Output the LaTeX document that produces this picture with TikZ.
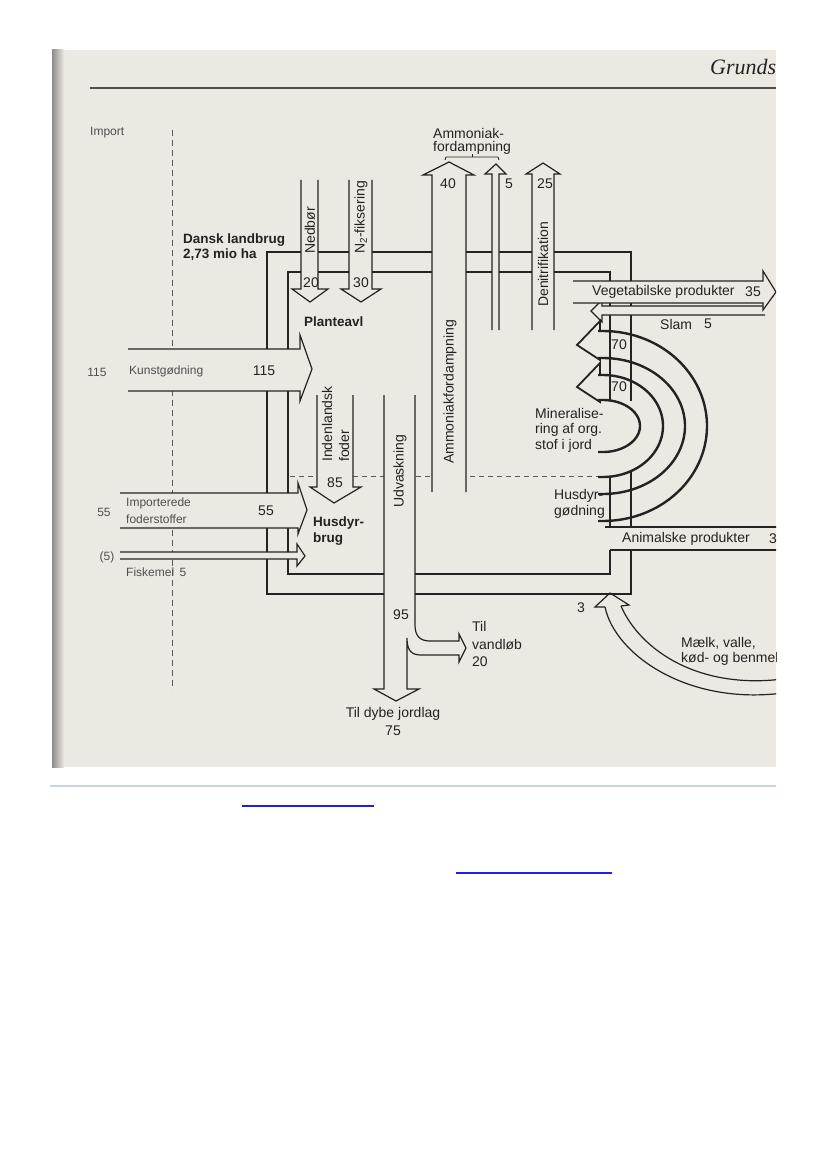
\documentclass[tikz,border=0pt]{standalone}
\usepackage{fontspec}
\setmainfont{Liberation Sans}
\newfontfamily\grundsfont{Liberation Serif}
\definecolor{paper}{RGB}{236,233,226}
\definecolor{ink}{RGB}{35,35,35}
\definecolor{rulegray}{RGB}{200,211,228}
\definecolor{linkblue}{RGB}{30,30,230}
\begin{document}
\begin{tikzpicture}[x=1pt,y=-1pt,
  wall/.style={ink, line width=1.3pt},
  flow/.style={ink, line width=1.2pt, line join=miter},
  band/.style={ink, line width=2.4pt},
  lbl/.style={font=\fontsize{14}{16}\selectfont, inner sep=0pt, text=ink},
  slbl/.style={font=\fontsize{12}{14}\selectfont, inner sep=0pt, text=ink!80},
  blbl/.style={font=\fontsize{13.5}{16}\selectfont\bfseries, inner sep=0pt, text=ink},
  dash1/.style={ink!75, line width=1pt, dash pattern=on 6pt off 4pt},
]
\useasboundingbox (0,0) rectangle (826,1169);
\fill[white] (0,0) rectangle (826,1169);
\fill[paper] (52,50) rectangle (776,767);
\begin{scope}
\clip (52,50) rectangle (776,767);
\shade[left color=black!45, right color=paper] (52,50) rectangle (64,767);
% header
\draw[ink!80, line width=1.2pt] (90,88) -- (776,88);
\node[anchor=base west, inner sep=0pt, font=\grundsfont\itshape\fontsize{22}{24}\selectfont, text=ink] at (710,75) {Grunds};
% dashed guides
\draw[dash1] (172,130) -- (172,690);
\draw[dash1, dash pattern=on 5pt off 4pt] (290,476) -- (598,476);
% box walls
\draw[wall] (267,594) -- (267,252) -- (631,252) -- (631,594) -- cycle;
\draw[wall] (288,574) -- (288,272) -- (610,272) -- (610,574) -- cycle;
\begin{scope}
\clip (595,401) rectangle (700,476);
\fill[paper] (603,375) -- plot[domain=-90:90, samples=40] ({603+60*cos(\x)},{426+51*sin(\x)}) -- cycle;
\end{scope}
% Nedbor
\fill[paper] (301,180) -- (301,289) -- (292,289) -- (310,302) -- (328,289) -- (318,289) -- (318,180) -- cycle;
\draw[flow] (301,180) -- (301,289) -- (292,289) -- (310,302) -- (328,289) -- (318,289) -- (318,180);
% N2
\fill[paper] (349,180) -- (349,289) -- (341,289) -- (361,302) -- (381,289) -- (372,289) -- (372,180) -- cycle;
\draw[flow] (349,180) -- (349,289) -- (341,289) -- (361,302) -- (381,289) -- (372,289) -- (372,180);
% Kunstgodning
\fill[paper] (128,349) -- (300,349) -- (300,335) -- (312,369) -- (300,401) -- (300,391) -- (128,391) -- cycle;
\draw[flow] (128,349) -- (300,349) -- (300,335) -- (312,369) -- (300,401) -- (300,391) -- (128,391);
% Importerede foderstoffer
\fill[paper] (120,493) -- (298,493) -- (298,483) -- (307,510) -- (298,534) -- (298,528) -- (120,528) -- cycle;
\draw[flow] (120,493) -- (298,493) -- (298,483) -- (307,510) -- (298,534) -- (298,528) -- (120,528);
% Fiskemel
\fill[paper] (120,552) -- (297,552) -- (297,544) -- (305,556) -- (297,566) -- (297,559) -- (120,559) -- cycle;
\draw[flow] (120,552) -- (297,552) -- (297,544) -- (305,556) -- (297,566) -- (297,559) -- (120,559);
% Indenlandsk foder
\fill[paper] (317,395) -- (317,487) -- (310,487) -- (334,503) -- (361,487) -- (353,487) -- (353,395) -- cycle;
\draw[flow] (317,395) -- (317,487) -- (310,487) -- (334,503) -- (361,487) -- (353,487) -- (353,395);
% Udvaskning
\fill[paper] (384,395) -- (384,689) -- (374,689) -- (396,701) -- (419,689) -- (407,689) -- (407,638) .. controls (407,650) and (411,655) .. (421,655) -- (459,655) -- (459,662) -- (466,648) -- (459,634) -- (459,641) -- (430,641) .. controls (420,641) and (415,636) .. (415,625) -- (415,395) -- cycle;
\draw[flow] (384,395) -- (384,689) -- (374,689) -- (396,701) -- (419,689) -- (407,689) -- (407,638) .. controls (407,650) and (411,655) .. (421,655) -- (459,655) -- (459,662) -- (466,648) -- (459,634) -- (459,641) -- (430,641) .. controls (420,641) and (415,636) .. (415,625) -- (415,395);
% Ammoniak 40
\fill[paper] (432,492) -- (432,175) -- (423,175) -- (449,162) -- (474,175) -- (466,175) -- (466,492) -- cycle;
\draw[flow] (432,492) -- (432,175) -- (423,175) -- (449,162) -- (474,175) -- (466,175) -- (466,492);
% Ammoniak 5
\fill[paper] (492,330) -- (492,174) -- (485,174) -- (496,164) -- (506,174) -- (499,174) -- (499,330) -- cycle;
\draw[flow] (492,330) -- (492,174) -- (485,174) -- (496,164) -- (506,174) -- (499,174) -- (499,330);
% Denitrifikation
\fill[paper] (532,330) -- (532,174) -- (526,174) -- (543,163) -- (560,174) -- (554,174) -- (554,330) -- cycle;
\draw[flow] (532,330) -- (532,174) -- (526,174) -- (543,163) -- (560,174) -- (554,174) -- (554,330);
% bracket
\draw[ink, line width=0.9pt] (445,160) -- (446,157) -- (498,157) -- (499,160);
\draw[ink, line width=0.9pt] (472,157) -- (472,154);
% Slam
\fill[paper] (770,306) -- (602,306) -- (602,300) -- (591,311) -- (602,322) -- (602,315) -- (770,315) -- cycle;
\draw[flow] (765,306) -- (602,306) -- (602,300) -- (591,311) -- (602,322) -- (602,315) -- (765,315);
% Vegetabilske
\fill[paper] (573,281) -- (763,281) -- (763,271) -- (776,292) -- (763,310) -- (763,303) -- (573,303) -- cycle;
\draw[flow] (573,281) -- (763,281) -- (763,271) -- (776,292) -- (763,310) -- (763,303) -- (573,303);
% Animalske
\fill[paper] (605,527) rectangle (790,550);
\draw[flow] (605,527) -- (790,527);
\draw[flow] (610,550) -- (790,550);
% Maelk arrow
\fill[paper] (605,607) .. controls (615,655) and (690,708) .. (790,692) -- (790,678) .. controls (700,692) and (640,650) .. (621,606) -- cycle;
\draw[flow] (605,607) .. controls (615,655) and (690,708) .. (790,692);
\draw[flow] (621,606) .. controls (640,650) and (700,692) .. (790,678);
\draw[flow] (605,607) -- (595,607) -- (610,593) -- (629,605) -- (621,606);
% bands
\draw[band] (598,331) -- plot[domain=-90:90, samples=60] ({603+104*cos(\x)},{426+95*sin(\x)}) -- (598,521);
\draw[band] (598,494) -- plot[domain=90:-90, samples=60] ({603+82*cos(\x)},{426+68*sin(\x)}) -- (598,358);
\draw[band] (598,375) -- plot[domain=-90:90, samples=50] ({603+60*cos(\x)},{426+51*sin(\x)}) -- (598,477);
\draw[band] (598,400) -- plot[domain=-90:90, samples=40] ({603+37*cos(\x)},{426+26*sin(\x)}) -- (598,452);
\draw[flow, line width=1.8pt] (600,331) -- (600,321) -- (577,345) -- (600,360) -- (600,358);
\draw[flow, line width=1.8pt] (600,375) -- (600,363) -- (577,387) -- (600,402) -- (600,400);
% texts
\node[slbl, anchor=west] at (90,133) {Import};
\node[blbl, anchor=west] at (183,240) {Dansk landbrug};
\node[blbl, anchor=west] at (183,255) {2,73 mio ha};
\node[blbl, anchor=west] at (304,322) {Planteavl};
\node[blbl, anchor=west] at (313,523) {Husdyr-};
\node[blbl, anchor=west] at (313,539) {brug};
\node[lbl, rotate=90, anchor=west] at (310,254) {Nedbør};
\node[lbl, rotate=90, anchor=west] at (361,254) {N\textsubscript{2}-fiksering};
\node[lbl] at (311,283) {20};
\node[lbl] at (361,283) {30};
\node[slbl] at (97,372) {115};
\node[slbl, anchor=west] at (129,371) {Kunstgødning};
\node[lbl] at (264,371) {115};
\node[slbl] at (104,512) {55};
\node[slbl, anchor=west] at (126,503) {Importerede};
\node[slbl, anchor=west] at (126,519) {foderstoffer};
\node[lbl] at (266,511) {55};
\node[slbl] at (107,557) {(5)};
\node[slbl, anchor=west] at (126,572) {Fiskemel};
\node[slbl] at (183,572) {5};
\node[lbl, rotate=90, anchor=west] at (327,462) {Indenlandsk};
\node[lbl, rotate=90, anchor=west] at (344,462) {foder};
\node[lbl] at (335,483) {85};
\node[lbl, rotate=90, anchor=west] at (400,508) {Udvaskning};
\node[lbl] at (401,615) {95};
\node[lbl, anchor=west] at (472,626) {Til};
\node[lbl, anchor=west] at (472,645) {vandløb};
\node[lbl, anchor=west] at (472,662) {20};
\node[lbl] at (393,714) {Til dybe jordlag};
\node[lbl] at (393,731) {75};
\node[lbl, rotate=90, anchor=west] at (450,464) {Ammoniakfordampning};
\node[lbl, anchor=west] at (433,133) {Ammoniak-};
\node[lbl, anchor=west] at (433,148) {fordampning};
\node[lbl] at (448,184) {40};
\node[lbl] at (509,184) {5};
\node[lbl] at (545,184) {25};
\node[lbl, rotate=90, anchor=west] at (543,307) {Denitrifikation};
\node[lbl, anchor=west] at (592,292) {Vegetabilske produkter};
\node[lbl] at (753,292) {35};
\node[lbl, anchor=west] at (660,324) {Slam};
\node[lbl] at (708,324) {5};
\node[lbl] at (619,345) {70};
\node[lbl] at (619,387) {70};
\node[lbl, anchor=west] at (535,413) {Mineralise-};
\node[lbl, anchor=west] at (535,430) {ring af org.};
\node[lbl, anchor=west] at (535,446) {stof i jord};
\node[lbl, anchor=west] at (554,496) {Husdyr-};
\node[lbl, anchor=west] at (554,512) {gødning};
\node[lbl, anchor=west] at (622,539) {Animalske produkter};
\node[lbl, anchor=west] at (769,539) {3};
\node[lbl] at (581,608) {3};
\node[lbl, anchor=west] at (681,643) {Mælk, valle,};
\node[lbl, anchor=west] at (681,659) {kød- og benmel};
\end{scope}
% below the scan
\draw[rulegray, line width=2.5pt] (50,786) -- (776,786);
\draw[linkblue, line width=1.8pt] (242,806) -- (374,806);
\draw[linkblue, line width=1.8pt] (456,873) -- (612,873);
\end{tikzpicture}
\end{document}
